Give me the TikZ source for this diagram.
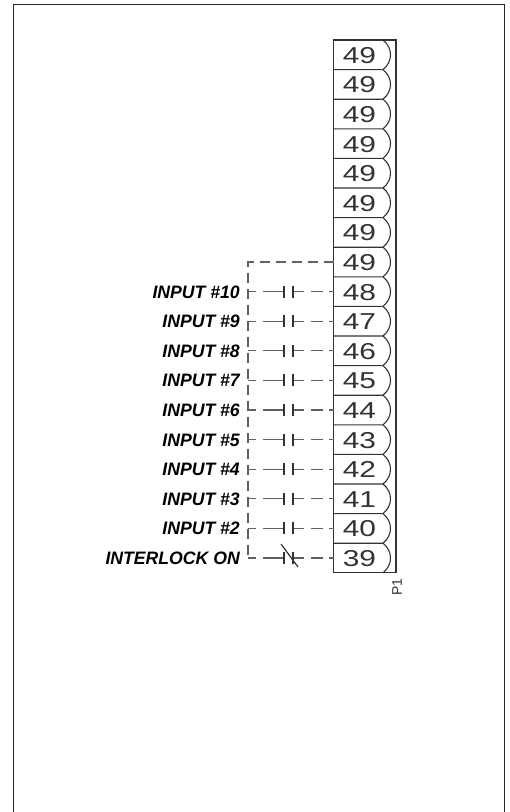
\documentclass[tikz,border=0pt]{standalone}
\usepackage{fontspec}
\setmainfont{Liberation Sans}
\begin{document}
\begin{tikzpicture}[x=1pt,y=-1pt,
  frame/.style={line width=1.5pt, draw=black!85},
  blk/.style={line width=1.1pt, draw=black!80},
  wire/.style={line width=1.2pt, draw=black!62},
  plate/.style={line width=1.2pt, draw=black!80},
  lbl/.style={anchor=base east, inner sep=0pt, font=\fontsize{18}{20}\selectfont\bfseries\itshape, xscale=0.98},
  num/.style={anchor=base, inner sep=0pt, font=\fontsize{23}{24}\selectfont, xscale=1.3, text=black!80},
  tag/.style={inner sep=0pt, rotate=90, font=\fontsize{14}{14}\selectfont, text=black!80}]
\useasboundingbox (0,0) rectangle (510,812);
% outer frame
\draw[frame] (13.5,812) -- (13.5,4.3) -- (504.5,4.3) -- (504.5,812);
% terminal block
\draw[blk] (333.5,40) rectangle (396,572.8);
\foreach \i in {0,...,17}{
  \pgfmathsetmacro\ya{40+29.6*\i}
  \pgfmathsetmacro\yb{\ya+29.6}
  \pgfmathsetmacro\ym{\ya+14.8}
  \pgfmathtruncatemacro\n{\i<8 ? 49 : 56-\i}
  \draw[blk] (333.5,\ya) -- (383,\ya) .. controls (393,\ya+8) and (393,\yb-8) .. (383,\yb);
  \node[num] (n\i) at (359.5,\ym+8.5) {\n};
  \coordinate (t\i) at (333.5,\ym);
  \coordinate (b\i) at (248,\ym);
  \coordinate (pl\i) at (284,\ym);
  \coordinate (pr\i) at (293,\ym);
}
\node[tag] (p1) at (397,587) {P1};
% common bus
\draw[wire, dash pattern=on 10pt off 6pt] (t7) -- (b7) -- (b17);
% contacts
\foreach \i in {8,...,17}{
  \draw[wire, dash pattern=on 8pt off 7pt on 30pt off 0pt] (b\i) -- (pl\i);
  \draw[wire, dash pattern=on 11pt off 7pt on 12pt off 6pt on 10pt off 0pt] (pr\i) -- (t\i);
  \draw[plate] ([yshift=-6pt]pl\i) -- ([yshift=6pt]pl\i);
  \draw[plate] ([yshift=-6pt]pr\i) -- ([yshift=6pt]pr\i);
}
\draw[plate] ([shift={(-3,-14)}]pl17) -- ([shift={(5,9)}]pr17);
% labels
\foreach \i/\lab in {8/INPUT \#10, 9/INPUT \#9, 10/INPUT \#8, 11/INPUT \#7, 12/INPUT \#6, 13/INPUT \#5, 14/INPUT \#4, 15/INPUT \#3, 16/INPUT \#2, 17/INTERLOCK ON}{
  \node[lbl] (l\i) at ([shift={(-8,6.5)}]b\i) {\lab};
}
\end{tikzpicture}
\end{document}
